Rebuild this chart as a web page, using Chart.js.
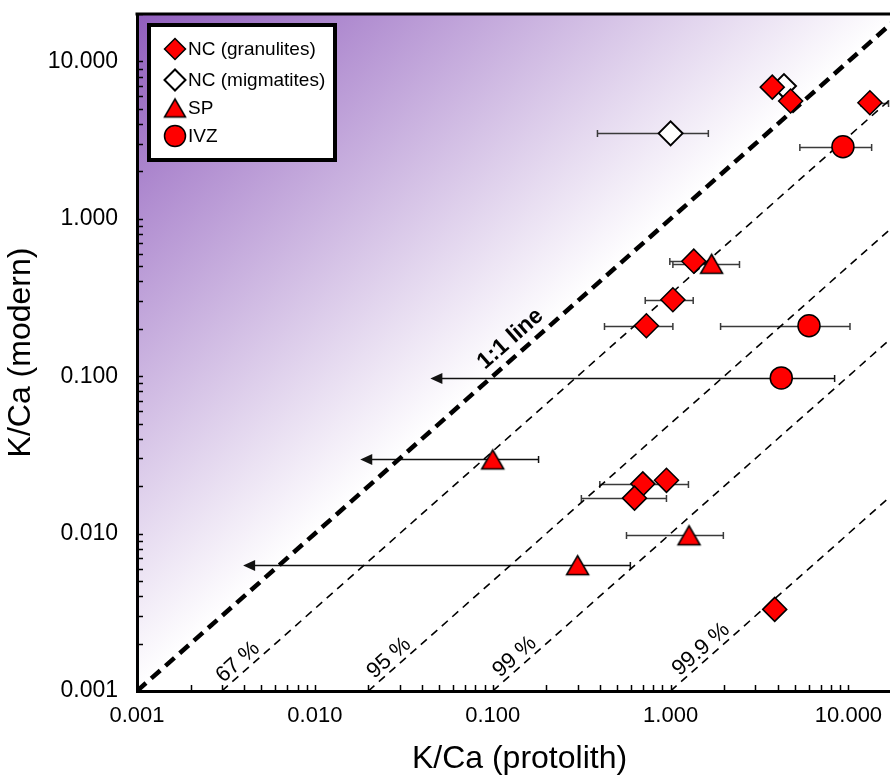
<!DOCTYPE html>
<html>
<head>
<meta charset="utf-8">
<script src="https://cdn.jsdelivr.net/npm/chart.js@4.4.1/dist/chart.umd.min.js"></script>
<style>
  html, body { margin: 0; padding: 0; background: #fff; overflow: hidden; }
</style>
</head>
<body>
<canvas id="chart" width="902" height="778"></canvas>
<script>
// axis
const axisMin = 0.001;
const axisMax = 20;
const decadeTicks = [0.001, 0.01, 0.1, 1, 10];

// NC (granulites)
const ncgX  = [3.73, 4.73, 13.2, 1.35, 1.03, 0.731, 0.698, 0.948, 0.627, 3.85];
const ncgY  = [6.86, 5.60, 5.46, 0.538, 0.306, 0.209, 0.0207, 0.0218, 0.0168, 0.0033];
const ncgLo = [null, null, 11.8, 0.99, 0.72, 0.425, 0.40, null, 0.315, null];
const ncgHi = [null, null, 16.8, 1.75, 1.34, 1.03, 1.26, null, 0.948, null];

// NC (migmatites)
const ncmX  = [4.34, 1.0];
const ncmY  = [6.97, 3.49];
const ncmLo = [null, 0.388];
const ncmHi = [null, 1.63];

// SP
const spX     = [1.70, 0.100, 1.27, 0.30];
const spY     = [0.518, 0.0296, 0.00976, 0.0063];
const spLo    = [1.03, 0.018, 0.565, 0.00395];
const spHi    = [2.44, 0.181, 1.98, 0.594];
const spArrow = [false, true, false, true];

// IVZ
const ivzX     = [9.31, 6.0, 4.19];
const ivzY     = [2.87, 0.209, 0.0975];
const ivzLo    = [5.33, 1.91, 0.0446];
const ivzHi    = [13.5, 10.2, 8.36];
const ivzArrow = [false, false, true];

// reference lines y = x / ratio
const refRatios  = [1, 3, 20, 100, 1000];
const refLabels  = ["1:1 line", "67 %", "95 %", "99 %", "99.9 %"];
const refLabelAt = [0.1445, 0.00406, 0.0287, 0.146, 1.63];

const FONT = "'Liberation Sans', Arial, sans-serif";

function pts(xs, ys) {
  return xs.map((x, i) => ({ x: x, y: ys[i] }));
}

// triangle marker centred on its bounding box
function triangleMarker(w, h, lw) {
  const c = document.createElement("canvas");
  c.width = Math.ceil(w + lw * 2 + 2);
  c.height = Math.ceil(h + lw * 2 + 2);
  const g = c.getContext("2d");
  const cx = c.width / 2, cy = c.height / 2;
  g.beginPath();
  g.moveTo(cx, cy - h / 2);
  g.lineTo(cx + w / 2, cy + h / 2);
  g.lineTo(cx - w / 2, cy + h / 2);
  g.closePath();
  g.fillStyle = "#ff0000";
  g.fill();
  g.lineWidth = lw;
  g.lineJoin = "miter";
  g.strokeStyle = "#000";
  g.stroke();
  return c;
}
const triPoint = triangleMarker(22, 19, 1.5);
const triLegend = triangleMarker(21, 18, 1.5);

const refSets = refRatios.map((r, i) => ({
  label: refLabels[i],
  data: [{ x: axisMin * r, y: axisMin }, { x: axisMax, y: axisMax / r }],
  showLine: true,
  borderColor: "#000",
  borderWidth: r === 1 ? 4.5 : 1.6,
  borderDash: r === 1 ? [12, 7] : [8, 6],
  pointRadius: 0,
  order: 5,
  refLine: true,
  labelAt: refLabelAt[i]
}));

const gradientBg = {
  id: "gradientBg",
  beforeDraw(chart) {
    const { ctx, chartArea: a, scales: { x, y } } = chart;
    const x1 = x.getPixelForValue(axisMin), y1 = y.getPixelForValue(axisMin);
    const x2 = x.getPixelForValue(axisMax), y2 = y.getPixelForValue(axisMax);
    const dx = x2 - x1, dy = y2 - y1;
    const t = ((a.left - x1) * dx + (a.top - y1) * dy) / (dx * dx + dy * dy);
    const fx = x1 + t * dx, fy = y1 + t * dy;
    const g = ctx.createLinearGradient(a.left, a.top, fx, fy);
    g.addColorStop(0, "rgb(144,94,189)");
    g.addColorStop(1, "#ffffff");
    ctx.save();
    ctx.fillStyle = g;
    ctx.fillRect(a.left, a.top, a.right - a.left, a.bottom - a.top);
    ctx.restore();
  }
};

const errorBars = {
  id: "errorBars",
  beforeDatasetsDraw(chart) {
    const { ctx, scales: { x, y } } = chart;
    ctx.save();
    chart.data.datasets.forEach(ds => {
      if (!ds.errLo) return;
      ds.data.forEach((p, i) => {
        if (ds.errLo[i] == null) return;
        const py = Math.round(y.getPixelForValue(p.y)) + 0.5;
        const xl = x.getPixelForValue(ds.errLo[i]);
        const xh = x.getPixelForValue(ds.errHi[i]);
        const arrow = ds.arrow && ds.arrow[i];
        ctx.strokeStyle = arrow ? "#111" : "#3a3a3a";
        ctx.fillStyle = "#111";
        ctx.lineWidth = 1.5;
        ctx.beginPath();
        ctx.moveTo(arrow ? xl + 8 : xl, py);
        ctx.lineTo(xh, py);
        ctx.moveTo(xh, py - 3.5);
        ctx.lineTo(xh, py + 3.5);
        if (!arrow) {
          ctx.moveTo(xl, py - 3.5);
          ctx.lineTo(xl, py + 3.5);
        }
        ctx.stroke();
        if (arrow) {
          ctx.beginPath();
          ctx.moveTo(xl, py);
          ctx.lineTo(xl + 12, py - 5.5);
          ctx.lineTo(xl + 12, py + 5.5);
          ctx.closePath();
          ctx.fill();
        }
      });
    });
    ctx.restore();
  }
};

const decorations = {
  id: "decorations",
  afterDatasetsDraw(chart) {
    const { ctx, scales: { x, y } } = chart;
    ctx.save();
    // reference line labels
    chart.data.datasets.forEach(ds => {
      if (!ds.refLine) return;
      const r = ds.data[0].x / ds.data[0].y;
      const p1 = { x: x.getPixelForValue(ds.data[0].x), y: y.getPixelForValue(ds.data[0].y) };
      const p2 = { x: x.getPixelForValue(ds.data[1].x), y: y.getPixelForValue(ds.data[1].y) };
      const ang = Math.atan2(p2.y - p1.y, p2.x - p1.x);
      const off = r === 1 ? 16 : 11;
      const px = x.getPixelForValue(ds.labelAt) + Math.sin(ang) * off;
      const py = y.getPixelForValue(ds.labelAt / r) - Math.cos(ang) * off;
      ctx.save();
      ctx.translate(px, py);
      ctx.rotate(ang);
      ctx.fillStyle = "#000";
      ctx.font = (r === 1 ? "bold 23px " : "22px ") + FONT;
      ctx.textAlign = "center";
      ctx.textBaseline = "middle";
      ctx.fillText(ds.label, 0, 0);
      ctx.restore();
    });
    ctx.restore();
  },
  afterDraw(chart) {
    const { ctx, chartArea: a, scales: { x, y } } = chart;
    ctx.save();
    // inner tick marks
    ctx.strokeStyle = "#000";
    ctx.lineWidth = 1.5;
    ctx.beginPath();
    decadeTicks.forEach(d => {
      for (let m = 1; m <= 9; m++) {
        const v = d * m;
        if (v > axisMax) continue;
        const px = Math.round(x.getPixelForValue(v)) + 0.5;
        const py = Math.round(y.getPixelForValue(v)) + 0.5;
        ctx.moveTo(px, a.bottom);
        ctx.lineTo(px, a.bottom - 6);
        ctx.moveTo(a.left, py);
        ctx.lineTo(a.left + 6, py);
      }
    });
    ctx.stroke();
    // top frame
    ctx.lineWidth = 3;
    ctx.beginPath();
    ctx.moveTo(a.left - 1.5, a.top);
    ctx.lineTo(a.right, a.top);
    ctx.stroke();

    // legend box
    const bx = 149, by = 25, bw = 186, bh = 135;
    ctx.fillStyle = "#fff";
    ctx.fillRect(bx, by, bw, bh);
    ctx.lineWidth = 4;
    ctx.strokeStyle = "#000";
    ctx.strokeRect(bx, by, bw, bh);
    const rows = [49, 80, 108, 136];
    chart.data.datasets.filter(ds => !ds.refLine).forEach((ds, i) => {
      ctx.fillStyle = ds.backgroundColor;
      ctx.strokeStyle = "#000";
      ctx.lineWidth = ds.borderWidth;
      const style = ds.pointStyle === triPoint ? triLegend : ds.pointStyle;
      Chart.helpers.drawPoint(ctx, { pointStyle: style, radius: 10.5, rotation: 0, borderWidth: ds.borderWidth }, 175, rows[i]);
      ctx.fillStyle = "#000";
      ctx.font = "19px " + FONT;
      ctx.textAlign = "left";
      ctx.textBaseline = "middle";
      ctx.fillText(ds.label, 188, rows[i] + 1);
    });
    ctx.restore();
  }
};

const ctx = document.getElementById("chart").getContext("2d");

new Chart(ctx, {
  type: "scatter",
  data: {
    datasets: [
      {
        label: "NC (granulites)",
        data: pts(ncgX, ncgY),
        errLo: ncgLo, errHi: ncgHi,
        pointStyle: "rectRot",
        pointRadius: 12,
        backgroundColor: "#ff0000",
        borderColor: "#000",
        borderWidth: 1.5,
        order: 1
      },
      {
        label: "NC (migmatites)",
        data: pts(ncmX, ncmY),
        errLo: ncmLo, errHi: ncmHi,
        pointStyle: "rectRot",
        pointRadius: 12,
        backgroundColor: "#ffffff",
        borderColor: "#000",
        borderWidth: 2,
        order: 1
      },
      {
        label: "SP",
        data: pts(spX, spY),
        errLo: spLo, errHi: spHi, arrow: spArrow,
        pointStyle: triPoint,
        pointRadius: 12,
        backgroundColor: "#ff0000",
        borderColor: "#000",
        borderWidth: 1.5,
        order: 1
      },
      {
        label: "IVZ",
        data: pts(ivzX, ivzY),
        errLo: ivzLo, errHi: ivzHi, arrow: ivzArrow,
        pointStyle: "circle",
        pointRadius: 11,
        backgroundColor: "#ff0000",
        borderColor: "#000",
        borderWidth: 1.5,
        order: 1
      },
      ...refSets
    ]
  },
  options: {
    responsive: false,
    animation: false,
    events: [],
    layout: { autoPadding: false, padding: { top: 14, right: 0, left: 0, bottom: 0 } },
    scales: {
      x: {
        type: "logarithmic",
        min: axisMin,
        max: axisMax,
        afterBuildTicks: s => { s.ticks = decadeTicks.map(v => ({ value: v })); },
        afterFit: s => { s.height = 87; s.paddingLeft = 0; s.paddingRight = 0; },
        grid: { display: false, drawTicks: false },
        border: { display: true, color: "#000", width: 3 },
        ticks: {
          color: "#000",
          padding: 12,
          maxRotation: 0,
          font: { family: FONT, size: 22 },
          callback: v => Number(v).toFixed(3)
        },
        title: {
          display: true,
          text: "K/Ca (protolith)",
          color: "#000",
          font: { family: FONT, size: 32, lineHeight: 1.2 },
          padding: { top: 0, bottom: 0 }
        }
      },
      y: {
        type: "logarithmic",
        min: axisMin,
        max: axisMax,
        afterBuildTicks: s => { s.ticks = decadeTicks.map(v => ({ value: v })); },
        afterFit: s => { s.width = 137; s.paddingTop = 0; s.paddingBottom = 0; },
        grid: { display: false, drawTicks: false },
        border: { display: true, color: "#000", width: 3 },
        ticks: {
          color: "#000",
          padding: 19,
          font: { family: FONT, size: 23 },
          callback: v => Number(v).toFixed(3)
        },
        title: {
          display: true,
          text: "K/Ca (modern)",
          color: "#000",
          font: { family: FONT, size: 32, lineHeight: 1.2 },
          padding: { top: 2, bottom: 0 }
        }
      }
    },
    plugins: {
      legend: { display: false },
      tooltip: { enabled: false }
    }
  },
  plugins: [gradientBg, errorBars, decorations]
});
</script>
</body>
</html>
